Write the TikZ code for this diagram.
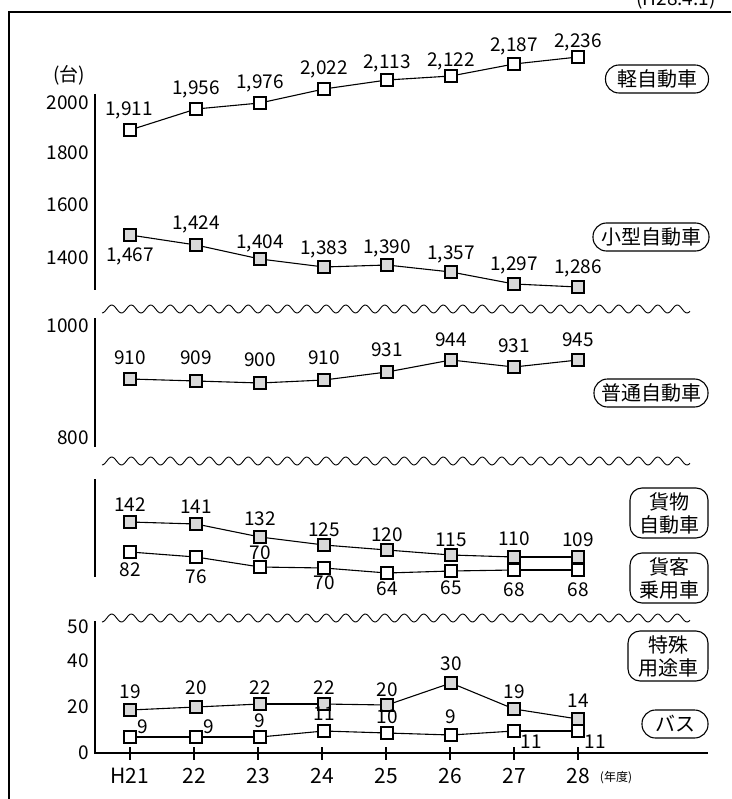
\documentclass[tikz,border=0pt]{standalone}
\usepackage{fontspec}
\setmainfont{Noto Sans CJK JP}
\newcommand\drawseries[3]{%
  \foreach \n/\x/\y/\lx/\ly/\t in {#3} {
    \node[#2] (#1\n) at (\x,\y) {};
    \node[lab] (#1l\n) at (\lx,\ly) {\t};
  }
  \foreach \i [evaluate=\i as \j using int(\i+1)] in {1,...,7} {
    \draw[conn] (#1\i) -- (#1\j);
  }
}
\begin{document}
\begin{tikzpicture}[x=1pt,y=-1pt,
  wm/.style={draw,fill=white,minimum size=12pt,inner sep=0pt,line width=1.2pt},
  gm/.style={wm,fill=black!15},
  lab/.style={font=\fontsize{19}{21}\selectfont,inner sep=0pt},
  axl/.style={font=\fontsize{19}{21}\selectfont,inner sep=0pt,anchor=east},
  xl/.style={font=\fontsize{21}{23}\selectfont,inner sep=0pt},
  conn/.style={line width=1.1pt},
  axis/.style={line width=1.4pt},
  wave/.style={line width=0.9pt},
  tag/.style={draw,line width=1.1pt,font=\fontsize{20}{23}\selectfont,align=center,inner sep=0pt},
  tag1/.style={tag,rounded corners=13.5pt,minimum height=28pt},
  tag2/.style={tag,rounded corners=12pt,minimum height=50pt,minimum width=78pt}
]
\clip (0,0) rectangle (731,799);
\fill[white] (0,0) rectangle (731,799);
% frame
\draw[line width=2pt] (9,799) -- (9,12) -- (731,12);
\node[lab,anchor=base] (date) at (676,6) {(H28.4.1)};

% axes
\draw[axis] (95,94) -- (95,290);
\draw[axis] (95,318) -- (95,447);
\draw[axis] (95,479) -- (95,577);
\draw[axis] (95,621) -- (95,753) -- (708,753);
\foreach \x in {130,194,258,322,386,450,514,578} {\draw[axis] (\x,747) -- (\x,760);}

% y labels
\node[lab] (unit) at (69,75) {(台)};
\node[axl] (y2000) at (89,103) {2000};
\node[axl] (y1800) at (89,153) {1800};
\node[axl] (y1600) at (89,205) {1600};
\node[axl] (y1400) at (89,258) {1400};
\node[axl] (y1000) at (89,326) {1000};
\node[axl] (y800) at (89,438) {800};
\node[axl] (y50) at (89,627) {50};
\node[axl] (y40) at (89,661) {40};
\node[axl] (y20) at (89,707) {20};
\node[axl] (y0) at (89,753) {0};

% x labels
\foreach \x/\t in {130/H21,194/22,258/23,322/24,386/25,450/26,514/27,578/28} {\node[xl] (x\t) at (\x,776) {\t};}
\node[font=\fontsize{12}{14}\selectfont,inner sep=0pt] (nendo) at (616,778) {(年度)};

% waves
\foreach \yy in {309,461,618} {
  \draw[wave] plot[domain=102:690,samples=400,smooth] (\x,{\yy+4*cos(18.4615*(\x-102))});
}

% series
\drawseries{k}{wm}{1/130/130/129/110/{1,911},2/196/109/196/89/{1,956},3/260/103/260/83/{1,976},4/324/89/324/69/{2,022},5/387/80/387/63/{2,113},6/451/76/451/61/{2,122},7/514/64/514/46/{2,187},8/578/57/578/42/{2,236}}
\drawseries{s}{gm}{1/130/235/130/256/{1,467},2/196/245/196/224/{1,424},3/260/259/260/243/{1,404},4/324/267/324/249/{1,383},5/387/265/387/248/{1,390},6/451/272/451/254/{1,357},7/514/284/514/265/{1,297},8/578/287/578/268/{1,286}}
\drawseries{f}{gm}{1/130/379/130/358/910,2/196/381/196/358/909,3/260/383/260/360/900,4/324/380/324/358/910,5/387/372/387/350/931,6/451/360/451/340/944,7/514/367/514/346/931,8/578/360/578/340/945}
\drawseries{c}{gm}{1/130/522/130/505/142,2/196/524/196/507/141,3/260/537/260/519/132,4/324/545/324/530/125,5/387/550/387/535/120,6/451/555/451/540/115,7/514/557/514/539/110,8/578/557/578/540/109}
\drawseries{p}{wm}{1/130/552/130/570/82,2/196/557/196/577/76,3/260/567/260/553/70,4/324/568/324/583/70,5/387/573/387/589/64,6/451/571/451/588/65,7/514/570/514/590/68,8/578/570/578/590/68}
\drawseries{t}{gm}{1/130/710/130/692/19,2/196/707/196/688/20,3/260/704/260/688/22,4/324/704/324/688/22,5/387/705/387/690/20,6/451/683/451/664/30,7/514/709/514/692/19,8/578/719/578/701/14}
\drawseries{b}{wm}{1/130/737/143/727/9,2/196/737/209/727/9,3/260/737/260/721/9,4/324/731/324/714/11,5/387/733/387/717/10,6/451/735/451/717/9,7/514/731/531/742/11,8/578/731/595/742/11}

% tags
\node[tag1,minimum width=103pt] (tk) at (657,79) {軽自動車};
\node[tag1,minimum width=116pt] (ts) at (651,237) {小型自動車};
\node[tag1,minimum width=114pt] (tf) at (651,393) {普通自動車};
\node[tag2] (tc) at (669,513) {貨物\\自動車};
\node[tag2] (tp) at (669,578) {貨客\\乗用車};
\node[tag2,minimum width=80pt] (tt) at (668,656) {特殊\\用途車};
\node[tag1,minimum width=66pt] (tb) at (675,724) {バス};
\end{tikzpicture}
\end{document}
